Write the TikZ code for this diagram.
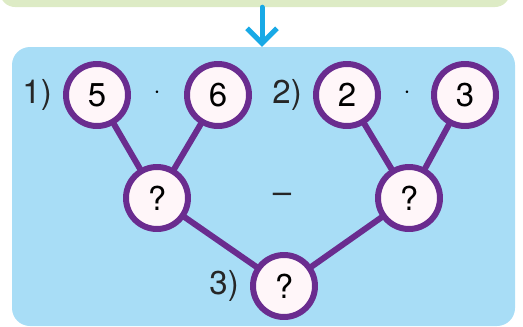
\documentclass[tikz,border=0pt]{standalone}
\usepackage{fontspec}
\setmainfont{TeX Gyre Heros}
\usetikzlibrary{arrows.meta,positioning}

\definecolor{treepurple}{HTML}{6A2C8F}
\definecolor{panelblue}{HTML}{A8DDF6}
\definecolor{topgreen}{HTML}{DDEBC5}
\definecolor{arrowcyan}{HTML}{18A9E6}
\definecolor{ballfill}{HTML}{FFF6F9}

\begin{document}
\begin{tikzpicture}[
    x=1pt, y=-1pt,
    font=\fontsize{33}{33}\selectfont,
    line cap=round,
    line join=round,
    ball/.style={circle, draw=treepurple, line width=6pt, fill=ballfill, inner sep=0pt, minimum size=62pt},
    link/.style={draw=treepurple, line width=6pt},
    lbl/.style={inner sep=0pt, text=black!85},
    opsign/.style={inner sep=0pt, font=\fontsize{24}{24}\selectfont},
    flow/.style={-{Straight Barb[length=15pt, width=30pt]}, line width=5pt, arrowcyan}
]
\useasboundingbox (0,0) rectangle (523,327);

% ------------------------
% Panels
% ------------------------
\node[fill=topgreen, rounded corners=15pt, minimum width=510pt, minimum height=40pt, inner sep=0pt] (top) at (255,-13) {};
\node[fill=panelblue, rounded corners=18pt, minimum width=503pt, minimum height=279pt, inner sep=0pt] (panel) at (263.5,186.5) {};
\draw[flow] ([xshift=7pt]top.south) -- ([xshift=7pt]top.south |- panel.north);

% ------------------------
% Tree of numbers
% ------------------------
\node[ball] (n5) at (97,95) {5};
\node[ball] (n6) at (218,95) {6};
\node[ball] (n2) at (347,95) {2};
\node[ball] (n3) at (465,95) {3};

\node[ball] (qa) at (157,198) {?};
\node[ball] (qb) at (409,198) {?};
\node[ball] (qc) at (284,286) {?};

\draw[link] (n5) -- (qa);
\draw[link] (n6) -- (qa);
\draw[link] (n2) -- (qb);
\draw[link] (n3) -- (qb);
\draw[link] (qa) -- (qc);
\draw[link] (qb) -- (qc);

% ------------------------
% Labels and signs
% ------------------------
\node[lbl, left=11pt of n5] (l1) {1)};
\node[lbl, left=11pt of n2] (l2) {2)};
\node[lbl, left=11pt of qc] (l3) {3)};

\node[opsign] (dota) at (157,93) {$\cdot$};
\node[opsign] (dotb) at (407,93) {$\cdot$};
\node[lbl] (minus) at (282,198) {–};

\end{tikzpicture}
\end{document}
